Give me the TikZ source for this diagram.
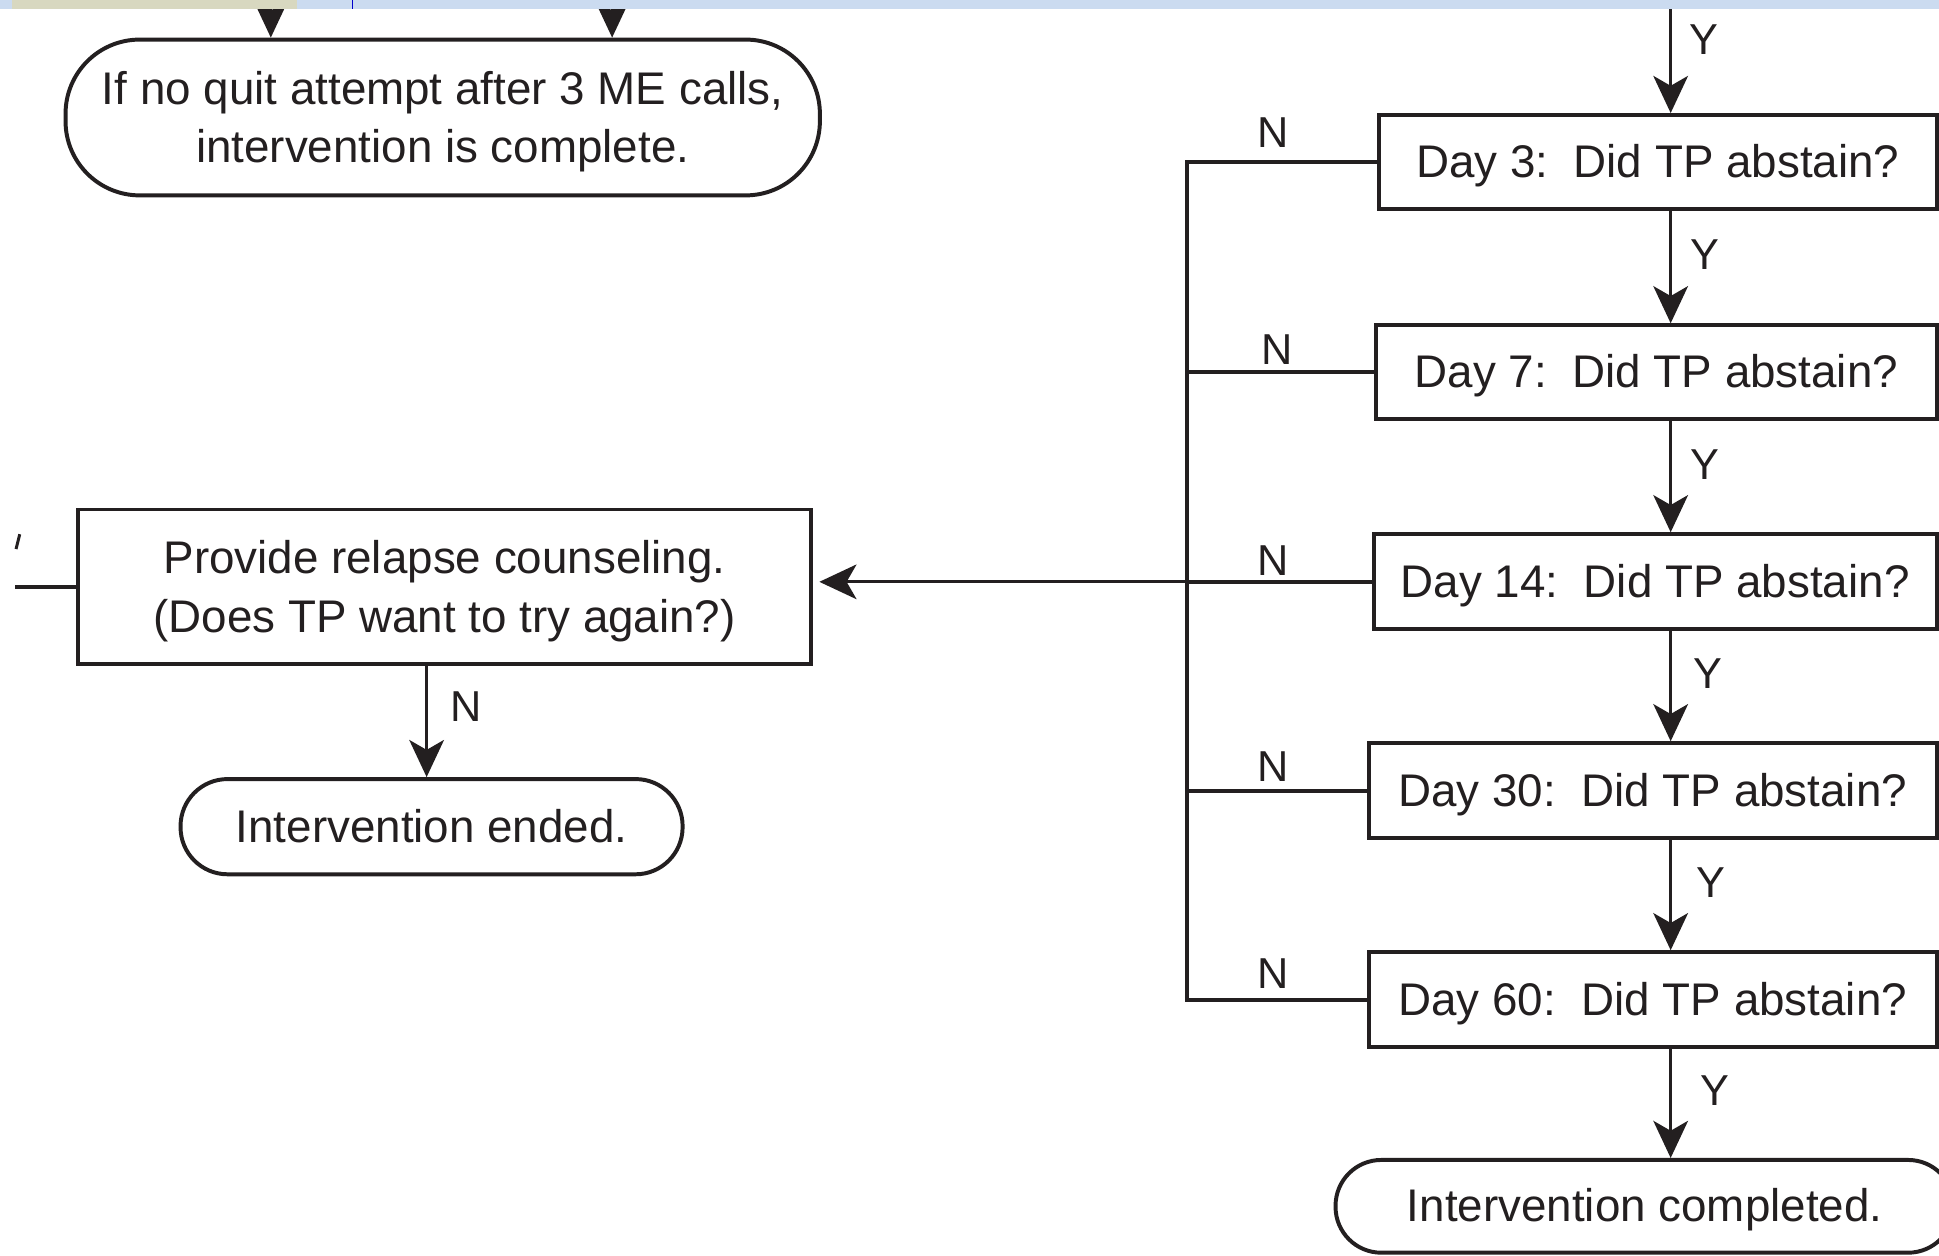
\documentclass[tikz,border=0pt]{standalone}
\usepackage{fontspec}
\setmainfont{Liberation Sans}
\usetikzlibrary{arrows.meta}
\definecolor{band}{RGB}{203,219,240}
\definecolor{beige}{RGB}{216,216,192}
\definecolor{ink}{RGB}{35,31,32}
\begin{document}
\begin{tikzpicture}[x=1pt,y=-1pt,
  every node/.style={font=\fontsize{37}{47}\selectfont, text=ink},
  box/.style={draw=ink, line width=3.2pt, inner sep=0pt, align=center},
  one/.style={text height=25pt, text depth=0pt},
  term/.style={box, rounded corners=60pt},
  arr/.style={draw=ink, line width=2.5pt, -{Stealth[length=30pt,width=28pt,inset=8pt]}},
  ln/.style={draw=ink, line width=2.8pt},
  lab/.style={font=\fontsize{35}{40}\selectfont, inner sep=0pt, anchor=west}]
\useasboundingbox (0,0) rectangle (1568,1015);
\clip (0,0) rectangle (1568,1015);
\fill[white] (0,0) rectangle (1568,1015);

% nodes
\node[term, minimum width=610pt, minimum height=126pt] (quit) at (358,95)
  {\rule{0pt}{34pt}If no quit attempt after 3 ME calls,\\intervention is complete.};
\node[box, minimum width=593pt, minimum height=125pt] (relapse) at (359.5,474.5)
  {\rule{0pt}{34pt}Provide relapse counseling.\\(Does TP want to try again?)};
\node[term, one, rounded corners=38pt, minimum width=406pt, minimum height=77pt] (ended) at (349,668.5)
  {Intervention ended.};

\node[box, one, minimum width=451pt, minimum height=76pt] (d3) at (1340.5,131) {Day 3:\ \ Did TP abstain?};
\node[box, one, minimum width=453pt, minimum height=76pt] (d7) at (1339.5,301) {Day 7:\ \ Did TP abstain?};
\node[box, one, minimum width=455pt, minimum height=77pt] (d14) at (1338.5,470.5) {Day 14:\ \ Did TP abstain?};
\node[box, one, minimum width=459pt, minimum height=77pt] (d30) at (1336.5,639.5) {Day 30:\ \ Did TP abstain?};
\node[box, one, minimum width=459pt, minimum height=77pt] (d60) at (1336.5,808.5) {Day 60:\ \ Did TP abstain?};
\node[term, one, rounded corners=37pt, minimum width=500pt, minimum height=75pt] (done) at (1330,975.5) {Intervention completed.};

% helper coordinates
\coordinate (c) at (1351,0);
\coordinate (trunk) at (960,0);
\coordinate (t1) at (219,0);
\coordinate (t2) at (495,0);
\coordinate (le) at (12,0);
\coordinate (dn) at (345,0);

% top arrows into quit box
\draw[arr] (t1) -- (t1 |- quit.north);
\draw[arr] (t2) -- (t2 |- quit.north);

% Y chain
\draw[arr] (c) -- (d3.north -| c);
\draw[arr] (d3.south -| c) -- (d7.north -| c);
\draw[arr] (d7.south -| c) -- (d14.north -| c);
\draw[arr] (d14.south -| c) -- (d30.north -| c);
\draw[arr] (d30.south -| c) -- (d60.north -| c);
\draw[arr] (d60.south -| c) -- (done.north -| c);

% N branches
\draw[ln] (d3.west) -- (d3.west -| trunk) -- (d60.west -| trunk) -- (d60.west);
\draw[ln] (d7.west) -- (d7.west -| trunk);
\draw[ln] (d30.west) -- (d30.west -| trunk);
\draw[ln] (d14.west) -- (d14.west -| trunk);
\draw[arr, shorten >=5pt] (d14.west -| trunk) -- (d14.west -| relapse.east);

% relapse
\draw[arr] (relapse.south -| dn) -- (ended.north -| dn);
\draw[ln] (relapse.west) -- (relapse.west -| le);
\draw[ink, line width=2.4pt] (13,444) -- (16,432);

% labels
\node[lab] (y0) at (1366,32) {Y};
\node[lab] (y1) at (1367,206) {Y};
\node[lab] (y2) at (1367,376) {Y};
\node[lab] (y3) at (1369,545) {Y};
\node[lab] (y4) at (1372,714) {Y};
\node[lab] (y5) at (1375,882) {Y};
\node[lab] (n1) at (1017,107) {N};
\node[lab] (n2) at (1020,283) {N};
\node[lab] (n3) at (1017,453) {N};
\node[lab] (n4) at (1017,620) {N};
\node[lab] (n5) at (1017,787) {N};
\node[lab] (n6) at (364,571) {N};

% top band fragment
\fill[band] (0,0) rectangle (1568,7);
\fill[beige] (10,0) rectangle (240,7);
\draw[blue!80!black, line width=1.5pt] (285,0) -- (285,7);
\end{tikzpicture}
\end{document}
